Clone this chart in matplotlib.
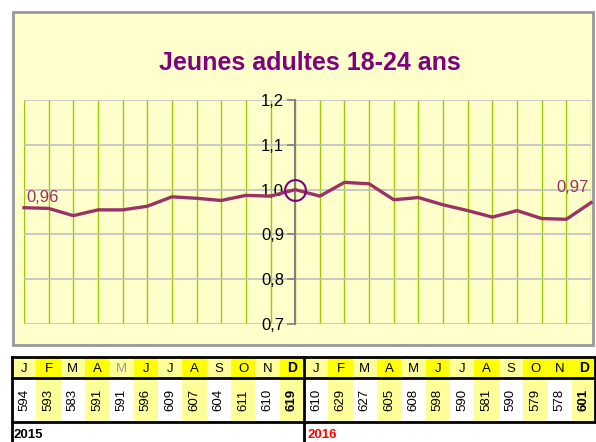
import matplotlib
matplotlib.use("Agg")
import matplotlib.pyplot as plt
from matplotlib.patches import Rectangle

plt.rcParams['font.family'] = ['Liberation Sans', 'DejaVu Sans']

# data
months = ['J', 'F', 'M', 'A', 'M', 'J', 'J', 'A', 'S', 'O', 'N', 'D']
counts_2015 = [594, 593, 583, 591, 591, 596, 609, 607, 604, 611, 610, 619]
counts_2016 = [610, 629, 627, 605, 608, 598, 590, 581, 590, 579, 578, 601]
reference = 619  # Dec 2015 = 1,00
yticks = [0.7, 0.8, 0.9, 1.0, 1.1, 1.2]

# header cell colours (Y = bright yellow, P = pale yellow)
head_2015 = ['P', 'Y', 'P', 'Y', 'P', 'Y', 'P', 'Y', 'P', 'Y', 'P', 'Y']
head_2016 = ['P', 'Y', 'P', 'Y', 'P', 'Y', 'P', 'Y', 'P', 'Y', 'Y', 'Y']

counts = counts_2015 + counts_2016
ratios = [c / reference for c in counts]
x = list(range(len(counts)))

W, H = 596, 442
fig = plt.figure(figsize=(W / 100, H / 100), dpi=100)

# background axes in pixel coordinates for frame and table
bg = fig.add_axes([0, 0, 1, 1])
bg.set_xlim(0, W)
bg.set_ylim(H, 0)
bg.axis('off')

bg.add_patch(Rectangle((13, 12), 580, 333, facecolor='#ffffcc', edgecolor='#999999', lw=2))
bg.text(310, 63, 'Jeunes adultes 18-24 ans', ha='center', va='center',
        fontsize=18, fontweight='bold', color='#800080')

# table
x0, cw = 12, (W - 12) / 24
head_top, head_bot, data_bot = 357, 378, 422
colmap = {'Y': '#ffff00', 'P': '#ffff99'}
heads = head_2015 + head_2016
labels = months + months
for i in range(24):
    cx = x0 + i * cw
    bg.add_patch(Rectangle((cx, head_top), cw, head_bot - head_top,
                           facecolor=colmap[heads[i]], edgecolor='none'))
    bg.add_patch(Rectangle((cx, head_bot), cw, data_bot - head_bot,
                           facecolor='#ffff99' if i % 2 else 'white', edgecolor='none'))
    last = (i % 12 == 11)
    mcol = '#999999' if i == 4 else 'black'
    bg.text(cx + cw / 2, (head_top + head_bot) / 2 + 1, labels[i], ha='center', va='center',
            fontsize=10 if last else 9.5, fontweight='bold' if last else 'normal', color=mcol)
    bg.text(cx + cw / 2, (head_bot + data_bot) / 2, str(counts[i]), ha='center', va='center',
            rotation=90, fontsize=9.5, fontweight='bold' if last else 'normal')

for yy in (head_top, head_bot, data_bot):
    bg.plot([x0, W], [yy, yy], color='black', lw=2)
for xx in (x0, x0 + 12 * cw):
    bg.plot([xx, xx], [head_top, H], color='black', lw=2)
bg.plot([W - 1, W - 1], [head_top, data_bot], color='black', lw=2)

bg.text(13, 435, '2015', ha='left', va='center', fontsize=9.5, fontweight='bold', color='black')
bg.text(x0 + 12 * cw + 4, 435, '2016', ha='left', va='center', fontsize=9.5,
        fontweight='bold', color='#ff0000')

# chart
left, right, top, bottom = 24, 591, 100, 324
ax = fig.add_axes([left / W, (H - bottom) / H, (right - left) / W, (bottom - top) / H])
ax.set_facecolor('#ffffcc')
ax.set_xlim(0, 23)
ax.set_ylim(0.7, 1.2)

for xi in x:
    ax.axvline(xi, color='#99cc00', lw=1, zorder=1)
for yv in yticks:
    ax.axhline(yv, color='#c0c0c0', lw=1.2, zorder=1)

ax.plot(x, ratios, color='#993366', lw=2.4, zorder=3, clip_on=False)
ax.plot([11], [1.0], marker='o', ms=15, mfc='none', mec='#800080', mew=1.5, zorder=4)

ax.text(0.1, ratios[0] + 0.005, '0,96', ha='left', va='bottom', fontsize=12, color='#993366')
ax.text(22.9, ratios[-1] + 0.018, '0,97', ha='right', va='bottom', fontsize=12, color='#993366')

for s in ('top', 'right', 'bottom'):
    ax.spines[s].set_visible(False)
ax.spines['left'].set_position(('data', 11))
ax.spines['left'].set_color('#808080')
ax.spines['left'].set_linewidth(1.5)
ax.spines['left'].set_zorder(2)
ax.set_xticks([])
ax.set_yticks(yticks)
ax.set_yticklabels([f'{v:.1f}'.replace('.', ',') for v in yticks], fontsize=12)
ax.tick_params(axis='y', direction='out', length=6, color='#808080', width=1.2, pad=2)

fig.savefig('out.png', dpi=100)
